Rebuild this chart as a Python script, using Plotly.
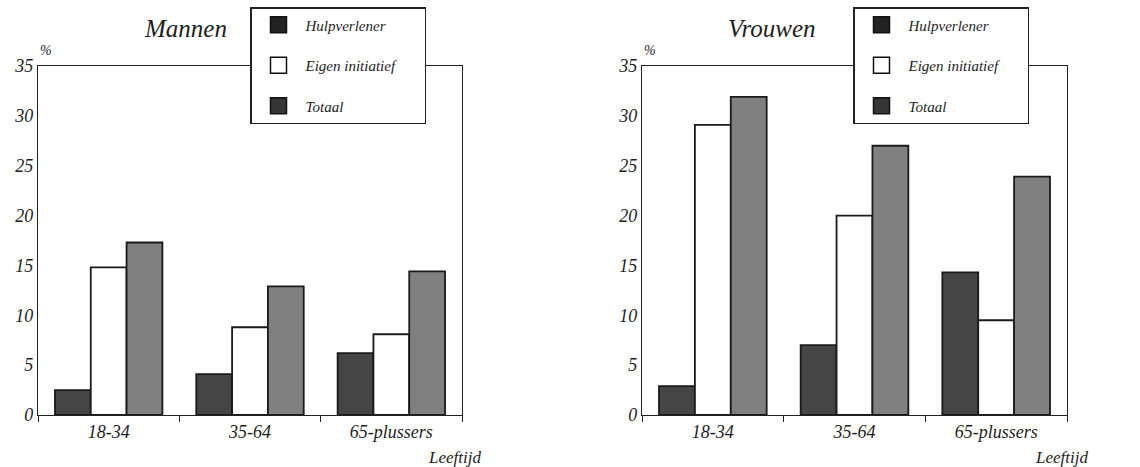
import plotly.graph_objects as go

categories = ["18-34", "35-64", "65-plussers"]
series_names = ["Hulpverlener", "Eigen initiatief", "Totaal"]
mannen_hulp = [2.5, 4.1, 6.2]
mannen_eigen = [14.8, 8.8, 8.1]
mannen_totaal = [17.3, 12.9, 14.4]
vrouwen_hulp = [2.9, 7.0, 14.3]
vrouwen_eigen = [29.1, 20.0, 9.5]
vrouwen_totaal = [31.9, 27.0, 23.9]
y_ticks = [0, 5, 10, 15, 20, 25, 30, 35]

FONT = "Liberation Serif"
bar_fill = ["#454545", "#ffffff", "#808080"]
bar_line = ["#1a1a1a", "#1a1a1a", "#1a1a1a"]
legend_fill = ["#222222", "#ffffff", "#363636"]

fig = go.Figure()

panels = [
    ("x", "y", [mannen_hulp, mannen_eigen, mannen_totaal], "legend"),
    ("x2", "y2", [vrouwen_hulp, vrouwen_eigen, vrouwen_totaal], "legend2"),
]
for xa, ya, vals, lg in panels:
    for i, (name, v) in enumerate(zip(series_names, vals)):
        fig.add_trace(go.Bar(
            x=categories, y=v, name=name, xaxis=xa, yaxis=ya,
            marker=dict(color=bar_fill[i], line=dict(color=bar_line[i], width=1.8)),
            showlegend=False,
        ))
    for i, name in enumerate(series_names):
        fig.add_trace(go.Scatter(
            x=[None], y=[None], mode="markers", name=name + "\u00a0" * 6,
            xaxis=xa, yaxis=ya,
            marker=dict(symbol="square", size=16, color=legend_fill[i],
                        line=dict(color="#111111", width=1.5)),
            legend=lg, legendgroup=lg + name,
        ))

axis_common = dict(
    showline=True, linecolor="#222222", linewidth=1.3, mirror=True,
    showgrid=False, zeroline=False,
    tickfont=dict(family=FONT, size=18, color="#1e1e1e", style="italic"),
)
legend_common = dict(
    xanchor="left", y=1 + 59/349, yanchor="top",
    bgcolor="white", bordercolor="#222222", borderwidth=1.5,
    font=dict(family=FONT, size=15, color="#1e1e1e", style="italic"),
    traceorder="grouped", tracegroupgap=18, itemwidth=44,
)
fig.update_layout(
    width=1140, height=467,
    margin=dict(l=0, r=0, t=66, b=52),
    paper_bgcolor="white", plot_bgcolor="white",
    barmode="group", bargap=0.24, bargroupgap=0.0,
    xaxis=dict(domain=[38/1140, 462/1140], ticks="outside", tickson="boundaries",
               ticklen=6, tickcolor="#222222", **axis_common),
    xaxis2=dict(domain=[642/1140, 1067/1140], ticks="outside", tickson="boundaries",
                ticklen=6, tickcolor="#222222", **axis_common),
    yaxis=dict(range=[0, 35], tickvals=y_ticks, ticks="", anchor="x", **axis_common),
    yaxis2=dict(range=[0, 35], tickvals=y_ticks, ticks="", anchor="x2", **axis_common),
    legend=dict(x=250/1140, **legend_common),
    legend2=dict(x=853/1140, **legend_common),
    showlegend=True,
)

ann_font = dict(family=FONT, color="#1e1e1e", style="italic")
annotations = [
    dict(text="Mannen", x=185/1140, y=28, font=dict(size=25, **ann_font)),
    dict(text="Vrouwen", x=772/1140, y=28, font=dict(size=25, **ann_font)),
    dict(text="%", x=46/1140, y=50, font=dict(size=14, **ann_font)),
    dict(text="%", x=650/1140, y=50, font=dict(size=14, **ann_font)),
    dict(text="Leeftijd", x=483/1140, y=457, xanchor="right", font=dict(size=17, **ann_font)),
    dict(text="Leeftijd", x=1090/1140, y=457, xanchor="right", font=dict(size=17, **ann_font)),
]
for a in annotations:
    fig.add_annotation(
        text=a["text"], xref="paper", yref="paper",
        x=a["x"], y=1 - (a["y"] - 66) / 349,
        xanchor=a.get("xanchor", "center"), yanchor="middle",
        showarrow=False, font=a["font"],
    )

fig.write_html("out.html")
